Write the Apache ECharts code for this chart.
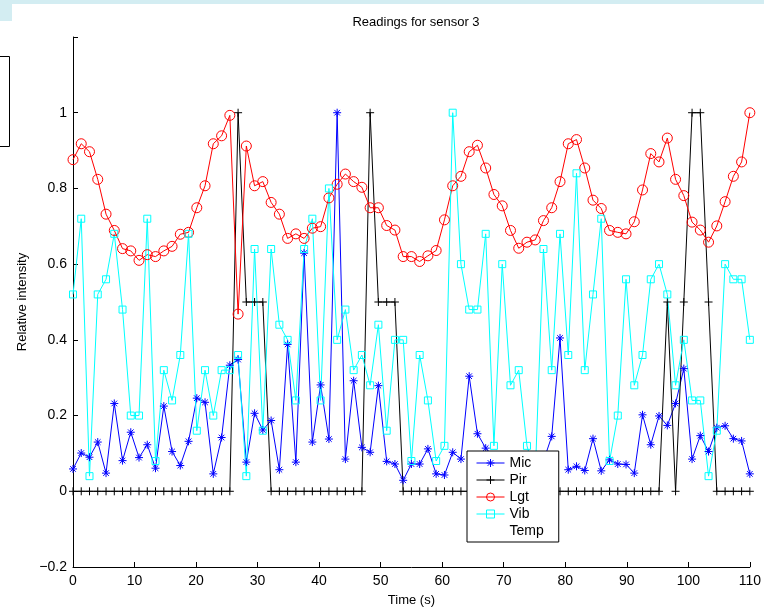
<!DOCTYPE html>
<html>
<head>
<meta charset="utf-8">
<script src="https://cdn.jsdelivr.net/npm/echarts@6/dist/echarts.min.js"></script>
<style>
  html, body { margin: 0; padding: 0; background: #ffffff; }
  #chart { width: 764px; height: 612px; }
</style>
</head>
<body>
<div id="chart"></div>
<script>
// Sample times (s)
const timeS = [0, 1.34, 2.68, 4.02, 5.37, 6.71, 8.05, 9.39, 10.73, 12.07,
  13.41, 14.76, 16.10, 17.44, 18.78, 20.12, 21.46, 22.80, 24.15, 25.49,
  26.83, 28.17, 29.51, 30.85, 32.20, 33.54, 34.88, 36.22, 37.56, 38.90,
  40.24, 41.59, 42.93, 44.27, 45.61, 46.95, 48.29, 49.63, 50.98, 52.32,
  53.66, 55.00, 56.34, 57.68, 59.02, 60.37, 61.71, 63.05, 64.39, 65.73,
  67.07, 68.41, 69.76, 71.10, 72.44, 73.78, 75.12, 76.46, 77.80, 79.15,
  80.49, 81.83, 83.17, 84.51, 85.85, 87.20, 88.54, 89.88, 91.22, 92.56,
  93.90, 95.24, 96.59, 97.93, 99.27, 100.61, 101.95, 103.29, 104.63, 105.98,
  107.32, 108.66, 110.00];

// Microphone
const mic = [0.059, 0.101, 0.090, 0.130, 0.048, 0.232, 0.081, 0.156, 0.089, 0.123,
  0.061, 0.225, 0.105, 0.068, 0.132, 0.246, 0.235, 0.046, 0.142, 0.333,
  0.348, 0.077, 0.206, 0.162, 0.187, 0.057, 0.388, 0.077, 0.629, 0.130,
  0.281, 0.138, 1.000, 0.085, 0.292, 0.116, 0.103, 0.279, 0.079, 0.072,
  0.029, 0.072, 0.072, 0.112, 0.046, 0.043, 0.103, 0.085, 0.304, 0.152,
  0.114, 0.090, 0.070, 0.060, 0.080, 0.050, 0.070, 0.080, 0.145, 0.405,
  0.057, 0.066, 0.055, 0.139, 0.054, 0.083, 0.072, 0.071, 0.048, 0.202,
  0.123, 0.199, 0.174, 0.232, 0.324, 0.085, 0.147, 0.105, 0.168, 0.173,
  0.139, 0.133, 0.046];

// Passive infrared
const pir = [0, 0, 0, 0, 0, 0, 0, 0, 0, 0,
  0, 0, 0, 0, 0, 0, 0, 0, 0, 0,
  1, 0.5, 0.5, 0.5, 0, 0, 0, 0, 0, 0,
  0, 0, 0, 0, 0, 0, 1, 0.5, 0.5, 0.5,
  0, 0, 0, 0, 0, 0, 0, 0, 0, 0,
  0, 0, 0, 0, 0, 0, 0, 0, 0, 0,
  0, 0, 0, 0, 0, 0, 0, 0, 0, 0,
  0, 0, 0.5, 0, 0.5, 1, 1, 0.5, 0, 0,
  0, 0, 0];

// Light
const lgt = [0.876, 0.918, 0.897, 0.824, 0.732, 0.689, 0.641, 0.635, 0.610, 0.625,
  0.620, 0.635, 0.647, 0.679, 0.684, 0.749, 0.807, 0.918, 0.939, 0.993,
  0.468, 0.912, 0.807, 0.818, 0.763, 0.732, 0.668, 0.680, 0.668, 0.695,
  0.699, 0.775, 0.811, 0.838, 0.818, 0.803, 0.749, 0.749, 0.702, 0.690,
  0.620, 0.620, 0.607, 0.622, 0.636, 0.717, 0.807, 0.832, 0.897, 0.914,
  0.854, 0.784, 0.754, 0.689, 0.642, 0.658, 0.664, 0.715, 0.749, 0.818,
  0.918, 0.929, 0.854, 0.769, 0.747, 0.689, 0.684, 0.680, 0.712, 0.796,
  0.892, 0.870, 0.933, 0.824, 0.781, 0.711, 0.690, 0.658, 0.701, 0.765,
  0.832, 0.870, 1.000];

// Vibration
const vib = [0.52, 0.72, 0.04, 0.52, 0.56, 0.68, 0.48, 0.20, 0.20, 0.72,
  0.08, 0.32, 0.24, 0.36, 0.68, 0.16, 0.32, 0.20, 0.32, 0.32,
  0.36, 0.04, 0.64, 0.16, 0.64, 0.44, 0.40, 0.24, 0.64, 0.72,
  0.24, 0.80, 0.40, 0.48, 0.32, 0.36, 0.28, 0.44, 0.16, 0.40,
  0.40, 0.08, 0.36, 0.24, 0.08, 0.12, 1.00, 0.60, 0.48, 0.48,
  0.68, 0.12, 0.60, 0.28, 0.32, 0.12, 0.04, 0.64, 0.32, 0.68,
  0.36, 0.84, 0.32, 0.52, 0.72, 0.08, 0.20, 0.56, 0.28, 0.36,
  0.56, 0.60, 0.52, 0.28, 0.40, 0.24, 0.24, 0.04, 0.16, 0.60,
  0.56, 0.56, 0.40];

const seriesNames = ['Mic', 'Pir', 'Lgt', 'Vib', 'Temp'];
const xTicks = [0, 10, 20, 30, 40, 50, 60, 70, 80, 90, 100, 110];

const FONT = 'Liberation Sans, Arial, Helvetica, sans-serif';

// Stroke-only marker paths
const ASTERISK = 'path://M0,-10L0,10M-10,0L10,0M-7,-7L7,7M-7,7L7,-7';
const PLUS = 'path://M0,-10L0,10M-10,0L10,0';
const SQUARE = 'path://M-10,-10L10,-10L10,10L-10,10Z';
const CIRCLE = 'circle';

function pairs(ys) {
  return ys.map((y, i) => [timeS[i], y]);
}

function lineSeries(name, ys, color, symbol, size) {
  return {
    name: name,
    type: 'line',
    data: pairs(ys),
    symbol: symbol,
    symbolSize: size,
    symbolKeepAspect: true,
    showAllSymbol: true,
    lineStyle: { color: color, width: 1 },
    itemStyle: { color: 'rgba(0,0,0,0)', borderColor: color, borderWidth: 1 },
    emphasis: { disabled: true },
    silent: true,
    z: 2
  };
}

const chart = echarts.init(document.getElementById('chart'), null, { renderer: 'canvas' });

chart.setOption({
  animation: false,
  backgroundColor: '#ffffff',
  textStyle: { fontFamily: FONT, color: '#000' },
  title: {
    text: 'Readings for sensor 3',
    left: 411,
    textAlign: 'center',
    top: 11,
    textStyle: { fontFamily: FONT, fontSize: 13, fontWeight: 'normal', color: '#000' }
  },
  graphic: [
    { type: 'rect', shape: { x: 0, y: 0, width: 764, height: 4 }, style: { fill: '#d3edf2' }, silent: true },
    { type: 'rect', shape: { x: 0, y: 0, width: 12, height: 21 }, style: { fill: '#d3edf2' }, silent: true },
    { type: 'rect', shape: { x: -1.5, y: 56.5, width: 11, height: 90 }, style: { fill: 'none', stroke: '#000', lineWidth: 1 }, silent: true }
  ],
  grid: { left: 73, right: 14, top: 37, bottom: 42, containLabel: false },
  legend: {
    orient: 'vertical',
    left: 467,
    top: 451,
    padding: [5, 15, 4, 9],
    itemGap: 3,
    itemWidth: 28,
    itemHeight: 10,
    backgroundColor: '#ffffff',
    borderColor: '#000000',
    borderWidth: 1,
    borderRadius: 0,
    selectedMode: false,
    lineStyle: { width: 1 },
    itemStyle: { borderWidth: 1 },
    textStyle: { fontFamily: FONT, fontSize: 14, color: '#000' },
    data: [
      { name: 'Mic' },
      { name: 'Pir' },
      { name: 'Lgt' },
      { name: 'Vib' },
      { name: 'Temp', icon: 'none' }
    ]
  },
  xAxis: {
    type: 'value',
    min: xTicks[0],
    max: xTicks[xTicks.length - 1],
    interval: 10,
    name: 'Time (s)',
    nameLocation: 'middle',
    nameGap: 27,
    nameTextStyle: { fontFamily: FONT, fontSize: 13, color: '#000' },
    axisLine: { onZero: false, lineStyle: { color: '#000', width: 1 } },
    axisTick: { inside: true, length: 5, lineStyle: { color: '#000' } },
    axisLabel: { fontFamily: FONT, fontSize: 14, color: '#000', margin: 7 },
    splitLine: { show: false }
  },
  yAxis: {
    type: 'value',
    min: -0.2,
    max: 1.2,
    interval: 0.2,
    name: 'Relative intensity',
    nameLocation: 'middle',
    nameGap: 38,
    nameTextStyle: { fontFamily: FONT, fontSize: 13, color: '#000' },
    axisLine: { show: true, onZero: false, lineStyle: { color: '#000', width: 1 } },
    axisTick: { show: true, inside: true, length: 5, lineStyle: { color: '#000' } },
    axisLabel: {
      fontFamily: FONT, fontSize: 14, color: '#000', margin: 6,
      formatter: function (v) {
        const r = Math.round(v * 10) / 10;
        if (r >= 1.15) return '';
        return String(r).replace('-', '\u2212');
      }
    },
    splitLine: { show: false }
  },
  series: [
    lineSeries(seriesNames[0], mic, '#0000ff', ASTERISK, 8),
    lineSeries(seriesNames[1], pir, '#000000', PLUS, 8),
    lineSeries(seriesNames[2], lgt, '#ff0000', CIRCLE, 10),
    lineSeries(seriesNames[3], vib, '#00ffff', SQUARE, 7),
    {
      name: seriesNames[4],
      type: 'line',
      data: [],
      symbol: 'none',
      lineStyle: { opacity: 0 },
      silent: true
    }
  ]
});
</script>
</body>
</html>
